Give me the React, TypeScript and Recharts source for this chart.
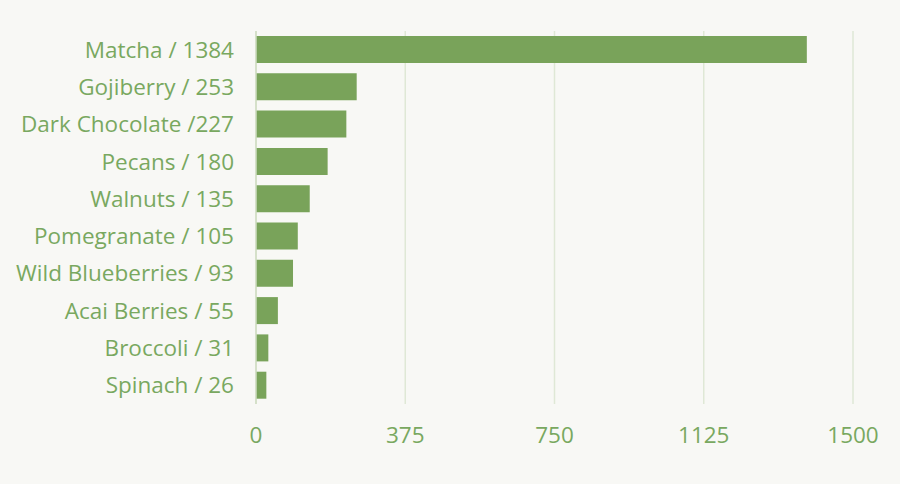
import { Bar, BarChart, CartesianGrid, XAxis, YAxis } from "recharts";

const foods = ["Matcha", "Gojiberry", "Dark Chocolate", "Pecans", "Walnuts", "Pomegranate", "Wild Blueberries", "Acai Berries", "Broccoli", "Spinach"];
const scores = [1384, 253, 227, 180, 135, 105, 93, 55, 31, 26];
const separators = [" / ", " / ", " /", " / ", " / ", " / ", " / ", " / ", " / ", " / "];
const xTicks = [0, 375, 750, 1125, 1500];

const palette = {
  bg: "#f8f8f5",
  bar: "#79a35a",
  text: "#79a860",
  grid: "#dfe8d6",
  axis: "#cfdcc2"
};

const data = foods.map((name, i) => ({ label: `${name}${separators[i]}${scores[i]}`, value: scores[i] }));

export default function App() {
  return (
    <div style={{ position: "absolute", left: 0, top: 0, width: 900, height: 484, background: palette.bg, fontFamily: "'Open Sans', sans-serif" }}>
      <BarChart width={900} height={484} data={data} layout="vertical" margin={{ top: 31, right: 47, bottom: 40, left: 0 }} barCategoryGap={5}>
        <CartesianGrid stroke={palette.grid} strokeWidth={1.5} horizontal={false} />
        <XAxis
          type="number"
          domain={[0, 1500]}
          ticks={xTicks}
          axisLine={false}
          tickLine={false}
          tickMargin={17}
          height={40}
          tick={{ fill: palette.text, fontSize: 22.5 }}
        />
        <YAxis
          type="category"
          dataKey="label"
          width={256}
          axisLine={{ stroke: palette.axis, strokeWidth: 1.5 }}
          tickLine={false}
          tickSize={0}
          tickMargin={22}
          interval={0}
          tick={{ fill: palette.text, fontSize: 22.5 }}
        />
        <Bar dataKey="value" fill={palette.bar} isAnimationActive={false} />
      </BarChart>
    </div>
  );
}
